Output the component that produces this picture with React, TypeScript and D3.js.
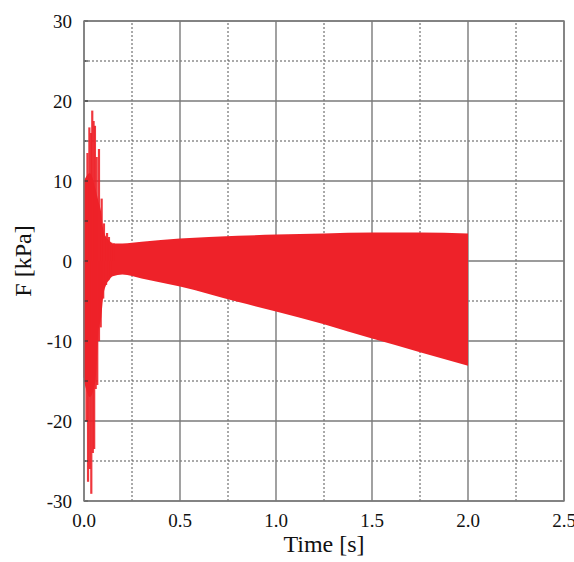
import React from "react";
import * as d3 from "d3";

// Envelope of the densely oscillating force signal
const envTime = [0, 0.03, 0.06, 0.075, 0.09, 0.1, 0.115, 0.13, 0.15, 0.2, 0.3, 0.5, 0.8, 1.0, 1.25, 1.5, 1.75, 2.0];
const envUpper = [10, 11, 9, 7.5, 6, 4, 3, 2.6, 2.2, 2.2, 2.4, 2.8, 3.15, 3.3, 3.45, 3.55, 3.55, 3.45];
const envLower = [-15, -17, -15, -9, -7, -4.5, -3, -2.4, -1.9, -1.7, -2.2, -3.2, -5.1, -6.3, -7.9, -9.7, -11.4, -13.1];

// Early transient peaks (positive)
const peakUpTime = [0.005, 0.018, 0.028, 0.036, 0.043, 0.05, 0.057, 0.066, 0.078, 0.092, 0.104, 0.12, 0.13, 0.142, 0.155];
const peakUpValue = [10.1, 13.5, 16.7, 16.0, 18.8, 17.5, 16.9, 13.0, 14.0, 7.8, 4.7, 3.5, 3.0, 2.3, 2.2];
// Early transient peaks (negative)
const peakLoTime = [0.003, 0.013, 0.021, 0.03, 0.038, 0.046, 0.053, 0.061, 0.069, 0.078, 0.087, 0.1, 0.115, 0.127, 0.138];
const peakLoValue = [-14.6, -20, -27.6, -26, -29.1, -24, -23.5, -16, -15.5, -10, -8.3, -4.7, -3.0, -2.4, -1.9];

const xMajor = [0, 0.5, 1.0, 1.5, 2.0, 2.5];
const xMinor = [0.25, 0.75, 1.25, 1.75, 2.25];
const yMajor = [-30, -20, -10, 0, 10, 20, 30];
const yMinor = [-25, -15, -5, 5, 15, 25];

const W = 574;
const H = 562;
const M = { left: 84, top: 21, right: 10, bottom: 61 };
const RED = "#ee2229";

export default function App() {
  const x = d3.scaleLinear().domain([0, 2.5]).range([M.left, W - M.right]);
  const y = d3.scaleLinear().domain([-30, 30]).range([H - M.bottom, M.top]);
  const band = d3
    .area<number>()
    .x((_, i) => x(envTime[i]))
    .y0((_, i) => y(envLower[i]))
    .y1((_, i) => y(envUpper[i]))
    .curve(d3.curveMonotoneX);
  const font = "'Liberation Serif', 'Times New Roman', serif";
  const [x0, x1] = x.range();
  const [y0, y1] = y.range();
  return (
    <svg width={W} height={H} style={{ position: "absolute", left: 0, top: 0, background: "#fff" }}>
      {/* minor grid */}
      {xMinor.map((v) => (
        <line key={"xm" + v} x1={x(v)} x2={x(v)} y1={y0} y2={y1} stroke="#555" strokeWidth={1} strokeDasharray="2,2" />
      ))}
      {yMinor.map((v) => (
        <line key={"ym" + v} x1={x0} x2={x1} y1={y(v)} y2={y(v)} stroke="#555" strokeWidth={1} strokeDasharray="2,2" />
      ))}
      {/* major grid */}
      {xMajor.map((v) => (
        <line key={"xM" + v} x1={x(v)} x2={x(v)} y1={y0} y2={y1} stroke="#7a7a7a" strokeWidth={1.4} />
      ))}
      {yMajor.map((v) => (
        <line key={"yM" + v} x1={x0} x2={x1} y1={y(v)} y2={y(v)} stroke="#7a7a7a" strokeWidth={1.4} />
      ))}
      {/* signal */}
      <path d={band(envTime) || ""} fill={RED} />
      {peakUpTime.map((t, i) => (
        <line key={"pu" + i} x1={x(t)} x2={x(t)} y1={y(0)} y2={y(peakUpValue[i])} stroke={RED} strokeWidth={2.2} opacity={0.9} />
      ))}
      {peakLoTime.map((t, i) => (
        <line key={"pl" + i} x1={x(t)} x2={x(t)} y1={y(0)} y2={y(peakLoValue[i])} stroke={RED} strokeWidth={2.2} opacity={0.9} />
      ))}
      {/* left axis small ticks */}
      {[...yMajor, ...yMinor].map((v) => (
        <line key={"yt" + v} x1={x0} x2={x0 + 4} y1={y(v)} y2={y(v)} stroke="#333" strokeWidth={1.2} />
      ))}
      <rect x={x0} y={y1} width={x1 - x0} height={y0 - y1} fill="none" stroke="#7a7a7a" strokeWidth={1.4} />
      {/* tick labels */}
      {xMajor.map((v) => (
        <text key={"xl" + v} x={x(v)} y={527} textAnchor="middle" fontFamily={font} fontSize={19} fill="#111">
          {v.toFixed(1)}
        </text>
      ))}
      {yMajor.map((v) => (
        <text key={"yl" + v} x={72} y={y(v) + 6.5} textAnchor="end" fontFamily={font} fontSize={19} fill="#111">
          {v}
        </text>
      ))}
      <text x={(x0 + x1) / 2} y={552} textAnchor="middle" fontFamily={font} fontSize={24} fill="#111">
        Time [s]
      </text>
      <text
        transform={`translate(31, ${(y0 + y1) / 2}) rotate(-90)`}
        textAnchor="middle"
        fontFamily={font}
        fontSize={24}
        fill="#111"
      >
        F [kPa]
      </text>
    </svg>
  );
}
